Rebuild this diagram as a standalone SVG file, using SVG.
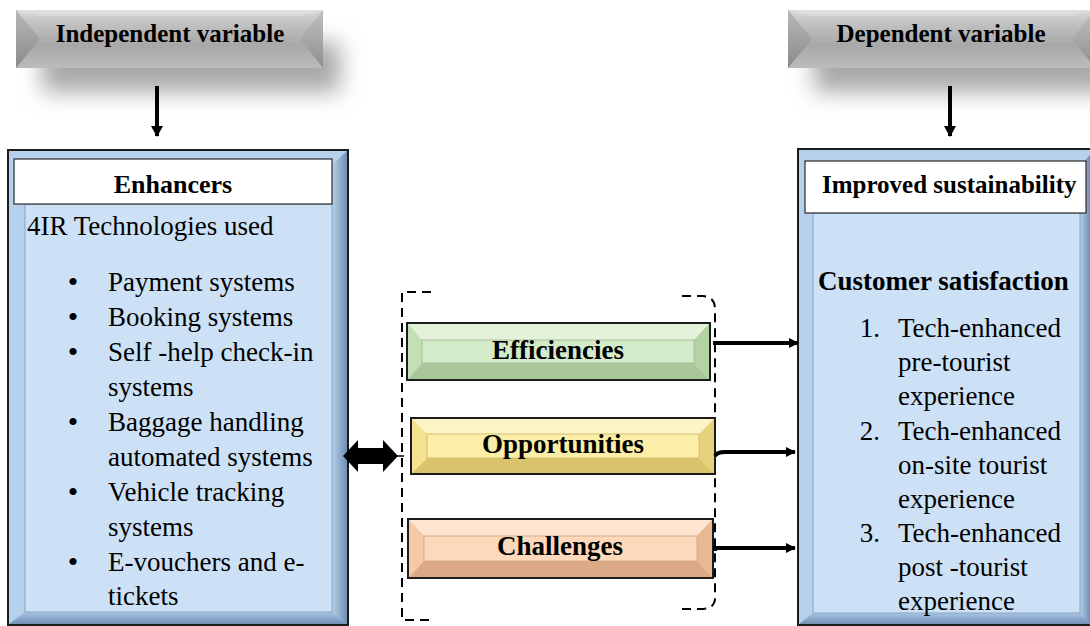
<svg xmlns="http://www.w3.org/2000/svg" width="1090" height="626" viewBox="0 0 1090 626">
<defs>
  <style>
    text { font-family: "Liberation Serif", "Times New Roman", serif; fill: #000; }
    .banner-text { font-size: 25px; font-weight: bold; text-anchor: middle; }
    .title { font-size: 26px; font-weight: bold; text-anchor: middle; }
    .body { font-size: 27px; }
    .bold27 { font-size: 27px; font-weight: bold; }
    .mid { font-size: 27px; font-weight: bold; text-anchor: middle; }
    .bullet { font-size: 30px; text-anchor: middle; }
    .num { font-size: 27px; text-anchor: end; }
    .frame { stroke: #1c1c1c; stroke-width: 2; }
    .header { fill: #ffffff; stroke: #2a2a2a; stroke-width: 1.2; }
    .panel { fill: #cce1f6; stroke: #8aa6c3; stroke-width: 1; }
    .bracket { fill: none; stroke: #000; stroke-width: 2; stroke-dasharray: 9 6; }
    .link { fill: none; stroke: #000; stroke-width: 4; }
    .down { fill: none; stroke: #000; stroke-width: 4; }
  </style>
  <linearGradient id="gFace" x1="0" y1="0" x2="0" y2="1">
    <stop offset="0" stop-color="#dcdcdc"/>
    <stop offset="0.2" stop-color="#c4c4c4"/>
    <stop offset="0.6" stop-color="#a8a8a8"/>
    <stop offset="1" stop-color="#bcbcbc"/>
  </linearGradient>
  <linearGradient id="gSideL" x1="0" y1="0" x2="0" y2="1">
    <stop offset="0" stop-color="#b8b8b8"/>
    <stop offset="1" stop-color="#8a8a8a"/>
  </linearGradient>
  <linearGradient id="gSideR" x1="0" y1="0" x2="0" y2="1">
    <stop offset="0" stop-color="#c0c0c0"/>
    <stop offset="1" stop-color="#8e8e8e"/>
  </linearGradient>
  <linearGradient id="gBlueR" x1="0" y1="0" x2="1" y2="0">
    <stop offset="0" stop-color="#b3cfeb"/>
    <stop offset="1" stop-color="#6f8fb2"/>
  </linearGradient>
  <linearGradient id="gBlueB" x1="0" y1="0" x2="0" y2="1">
    <stop offset="0" stop-color="#a8c5e3"/>
    <stop offset="1" stop-color="#7192b5"/>
  </linearGradient>
  <filter id="shadow" x="-30%" y="-80%" width="160%" height="260%">
    <feGaussianBlur stdDeviation="11"/>
  </filter>
  <marker id="head" markerUnits="userSpaceOnUse" markerWidth="12" markerHeight="12" refX="9" refY="6" orient="auto">
    <path d="M0,1 L10,6 L0,11 z" fill="#000"/>
  </marker>
  <marker id="headDown" markerUnits="userSpaceOnUse" markerWidth="14" markerHeight="14" refX="10" refY="7" orient="auto">
    <path d="M0,1 L11,7 L0,13 z" fill="#000"/>
  </marker>
</defs>

<g id="independent-variable">
  <rect x="42" y="42" width="298" height="50" fill="#a8a8a8" filter="url(#shadow)"/>
  <rect x="16" y="10" width="307" height="58" fill="url(#gFace)"/>
  <polygon points="16,10 40,39 16,68" fill="url(#gSideL)"/>
  <polygon points="323,10 300,39 323,68" fill="url(#gSideR)"/>
  <polygon points="16,10 323,10 300,16 40,16" fill="#e2e2e2" opacity="0.6"/>
  <text class="banner-text" x="170" y="42">Independent variable</text>
</g>

<g id="dependent-variable">
  <rect x="814" y="42" width="298" height="50" fill="#a8a8a8" filter="url(#shadow)"/>
  <rect x="788" y="10" width="307" height="58" fill="url(#gFace)"/>
  <polygon points="788,10 812,39 788,68" fill="url(#gSideL)"/>
  <polygon points="1095,10 1072,39 1095,68" fill="url(#gSideR)"/>
  <polygon points="788,10 1095,10 1072,16 812,16" fill="#e2e2e2" opacity="0.6"/>
  <text class="banner-text" x="941" y="42">Dependent variable</text>
</g>

<g id="enhancers">
  <rect class="frame" x="8" y="150" width="340" height="475" fill="#b6d1ec"/>
  <polygon points="347,151 347,624 332,612 332,165" fill="url(#gBlueR)"/>
  <polygon points="9,624 347,624 332,612 25,612" fill="url(#gBlueB)"/>
  <rect class="panel" x="25" y="204" width="307" height="408"/>
  <rect class="header" x="14" y="159" width="318" height="45"/>
  <text class="title" x="173" y="193">Enhancers</text>
  <text class="body" x="27" y="235">4IR Technologies used</text>
  <text class="bullet" x="73" y="292">•</text><text class="body" x="108" y="291">Payment systems</text>
  <text class="bullet" x="73" y="327">•</text><text class="body" x="108" y="326">Booking systems</text>
  <text class="bullet" x="73" y="362">•</text><text class="body" x="108" y="361">Self -help check-in</text>
  <text class="body" x="108" y="396">systems</text>
  <text class="bullet" x="73" y="432">•</text><text class="body" x="108" y="431">Baggage handling</text>
  <text class="body" x="108" y="466">automated systems</text>
  <text class="bullet" x="73" y="502">•</text><text class="body" x="108" y="501">Vehicle tracking</text>
  <text class="body" x="108" y="536">systems</text>
  <text class="bullet" x="73" y="572">•</text><text class="body" x="108" y="571">E-vouchers and e-</text>
  <text class="body" x="108" y="605">tickets</text>
</g>

<g id="improved-sustainability">
  <rect class="frame" x="798" y="149" width="300" height="476" fill="#b6d1ec"/>
  <polygon points="1080,165 1090,155 1090,625 1080,613" fill="url(#gBlueR)"/>
  <polygon points="799,624 1090,624 1080,613 813,613" fill="url(#gBlueB)"/>
  <rect class="panel" x="813" y="213" width="267" height="400"/>
  <rect class="header" x="805" y="161" width="281" height="52"/>
  <text class="bold27" x="822" y="193" style="font-size:25px">Improved sustainability</text>
  <text class="bold27" x="818" y="290">Customer satisfaction</text>
  <text class="num" x="880" y="337">1.</text><text class="body" x="898" y="337">Tech-enhanced</text>
  <text class="body" x="898" y="371">pre-tourist</text>
  <text class="body" x="898" y="405">experience</text>
  <text class="num" x="880" y="440">2.</text><text class="body" x="898" y="440">Tech-enhanced</text>
  <text class="body" x="898" y="474">on-site tourist</text>
  <text class="body" x="898" y="508">experience</text>
  <text class="num" x="880" y="542">3.</text><text class="body" x="898" y="542">Tech-enhanced</text>
  <text class="body" x="898" y="576">post -tourist</text>
  <text class="body" x="898" y="610">experience</text>
</g>

<g id="factors-bracket">
  <path class="bracket" d="M431,292 H402 V620 H431"/>
  <path class="bracket" d="M682,296 H703 Q715,297 715,309 V598 Q715,608 703,609 H682"/>
</g>

<g id="efficiencies">
  <rect x="407" y="323" width="303" height="57" fill="#cfe7c3" stroke="#1c1c1c" stroke-width="2"/>
  <polygon points="408,324 709,324 694,340 422,340" fill="#e4f2dc"/>
  <polygon points="408,379 709,379 694,363 422,363" fill="#a9c79b"/>
  <polygon points="408,324 422,340 422,363 408,379" fill="#c3dfb5"/>
  <polygon points="709,324 694,340 694,363 709,379" fill="#b4d2a6"/>
  <rect x="422" y="340" width="272" height="23" fill="#d3ebc8" stroke="#a3c295" stroke-width="1"/>
  <text class="mid" x="558" y="359">Efficiencies</text>
</g>

<g id="opportunities">
  <rect x="411" y="418" width="304" height="56" fill="#fbeb9f" stroke="#1c1c1c" stroke-width="2"/>
  <polygon points="412,419 714,419 699,434 427,434" fill="#fdf4c6"/>
  <polygon points="412,473 714,473 699,458 427,458" fill="#d9c46c"/>
  <polygon points="412,419 427,434 427,458 412,473" fill="#f4e290"/>
  <polygon points="714,419 699,434 699,458 714,473" fill="#e6d27c"/>
  <rect x="427" y="434" width="272" height="24" fill="#fceea6" stroke="#d2be72" stroke-width="1"/>
  <text class="mid" x="563" y="453">Opportunities</text>
</g>

<g id="challenges">
  <rect x="408" y="519" width="305" height="59" fill="#fcd4b4" stroke="#1c1c1c" stroke-width="2"/>
  <polygon points="409,520 712,520 697,536 424,536" fill="#fde5d2"/>
  <polygon points="409,577 712,577 697,561 424,561" fill="#dba985"/>
  <polygon points="409,520 424,536 424,561 409,577" fill="#f6c9a6"/>
  <polygon points="712,520 697,536 697,561 712,577" fill="#e8b892"/>
  <rect x="424" y="536" width="273" height="25" fill="#fdd8bb" stroke="#d5ab8a" stroke-width="1"/>
  <text class="mid" x="560" y="555">Challenges</text>
</g>

<g id="connectors">
  <line class="down" x1="157" y1="86" x2="157" y2="136" marker-end="url(#headDown)"/>
  <line class="down" x1="950" y1="86" x2="950" y2="136" marker-end="url(#headDown)"/>
  <polygon points="343,456 358,440 358,448 383,448 383,440 398,456 383,472 383,464 358,464 358,472" fill="#000"/>
  <line x1="397" y1="456" x2="404" y2="456" stroke="#000" stroke-width="1.5"/>
  <line class="link" x1="713" y1="343" x2="798" y2="343" marker-end="url(#head)"/>
  <path class="link" d="M715,456 Q717,452 725,452 H795" marker-end="url(#head)"/>
  <path class="link" d="M715,551 V548 H795" marker-end="url(#head)"/>
</g>
</svg>
